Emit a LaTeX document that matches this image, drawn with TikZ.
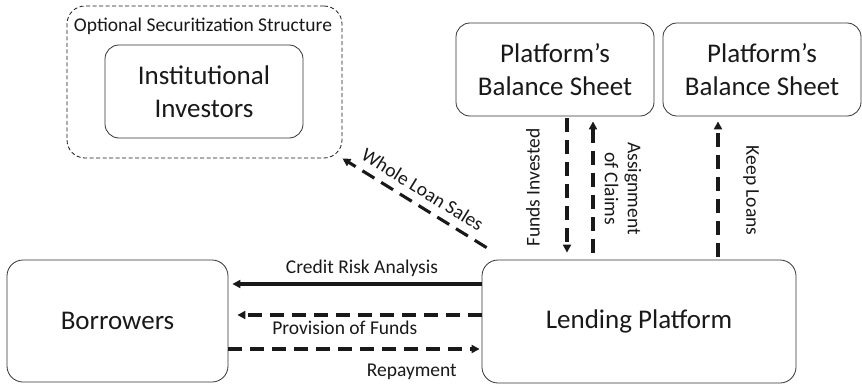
\documentclass[tikz,border=0pt]{standalone}
\usepackage{fontspec}
\setmainfont{Carlito}
\usetikzlibrary{arrows.meta,calc}

\tikzset{
  box/.style={draw=black!80, line width=0.8pt, rounded corners=14pt, align=center,
    inner sep=0pt, text=black!90, font=\fontsize{27}{33}\selectfont},
  lbl/.style={font=\fontsize{19.5}{23}\selectfont, align=center, text=black!90},
  flow/.style={line width=3.1pt, black!90, -{Triangle[length=8pt,width=8pt]}},
  dflow/.style={flow, dash pattern=on 14pt off 8pt},
}

\begin{document}
\begin{tikzpicture}[x=1pt,y=1pt]
  \useasboundingbox (0,0) rectangle (862,384);
  % boxes
  \node[box, draw=black!90, dash pattern=on 4pt off 2.5pt, line width=0.8pt, rounded corners=18pt,
    minimum width=275pt, minimum height=152pt] (secu) at (204.5,302) {};
  \node[lbl] (secuLbl) at (203,358) {Optional Securitization Structure};
  \node[box, minimum width=198pt, minimum height=93pt] (inst) at (204,292.5) {Institutional\\Investors};
  \node[box, minimum width=198pt, minimum height=93pt] (bs1) at (555,314.5) {Platform’s\\Balance Sheet};
  \node[box, minimum width=198pt, minimum height=93pt] (bs2) at (762,314.5) {Platform’s\\Balance Sheet};
  \node[box, rounded corners=16pt, minimum width=221pt, minimum height=122pt] (borr) at (117.5,63) {Borrowers};
  \node[box, rounded corners=16pt, minimum width=314pt, minimum height=123pt] (lend) at (639,62.5) {Lending Platform};

  % arrow rows and columns
  \coordinate (cra) at (0,100);
  \coordinate (pof) at (0,69);
  \coordinate (rep) at (0,35);
  \coordinate (fi) at (567,0);
  \coordinate (ac) at (593,0);
  \coordinate (kl) at (718,0);

  \draw[flow] (lend.west |- cra) -- ($(borr.east |- cra)+(4,0)$)
    node[lbl, pos=0.48, above=2pt] {Credit Risk Analysis};
  \draw[dflow] (lend.west |- pof) -- ($(borr.east |- pof)+(9,0)$)
    node[lbl, pos=0.56, below=1pt] {Provision of Funds};
  \draw[dflow] (borr.east |- rep) -- ($(lend.west |- rep)+(-2,0)$)
    node[lbl, pos=0.73, below=10pt] {Repayment};

  \draw[dflow] ($(lend.north west)+(5,12)$) -- (secu.south east)
    node[lbl, midway, sloped, above=4pt] {Whole Loan Sales};

  \draw[dflow] ($(fi |- bs1.south)+(0,-2)$) -- ($(fi |- lend.north)+(0,7)$);
  \draw[dflow] ($(ac |- lend.north)+(0,7)$) -- ($(ac |- bs1.south)+(0,-5)$);
  \draw[dflow] ($(kl |- lend.north)+(0,3)$) -- ($(kl |- bs2.south)+(0,-5)$);
  \node[lbl, rotate=90] (fiLbl) at ($(fi |- lend.north)+(-34,72)$) {Funds Invested};
  \node[lbl, rotate=-90] (acLbl) at ($(ac |- lend.north)+(30,71)$) {Assignment\\of Claims};
  \node[lbl, rotate=-90] (klLbl) at ($(kl |- lend.north)+(33,69)$) {Keep Loans};
\end{tikzpicture}
\end{document}
